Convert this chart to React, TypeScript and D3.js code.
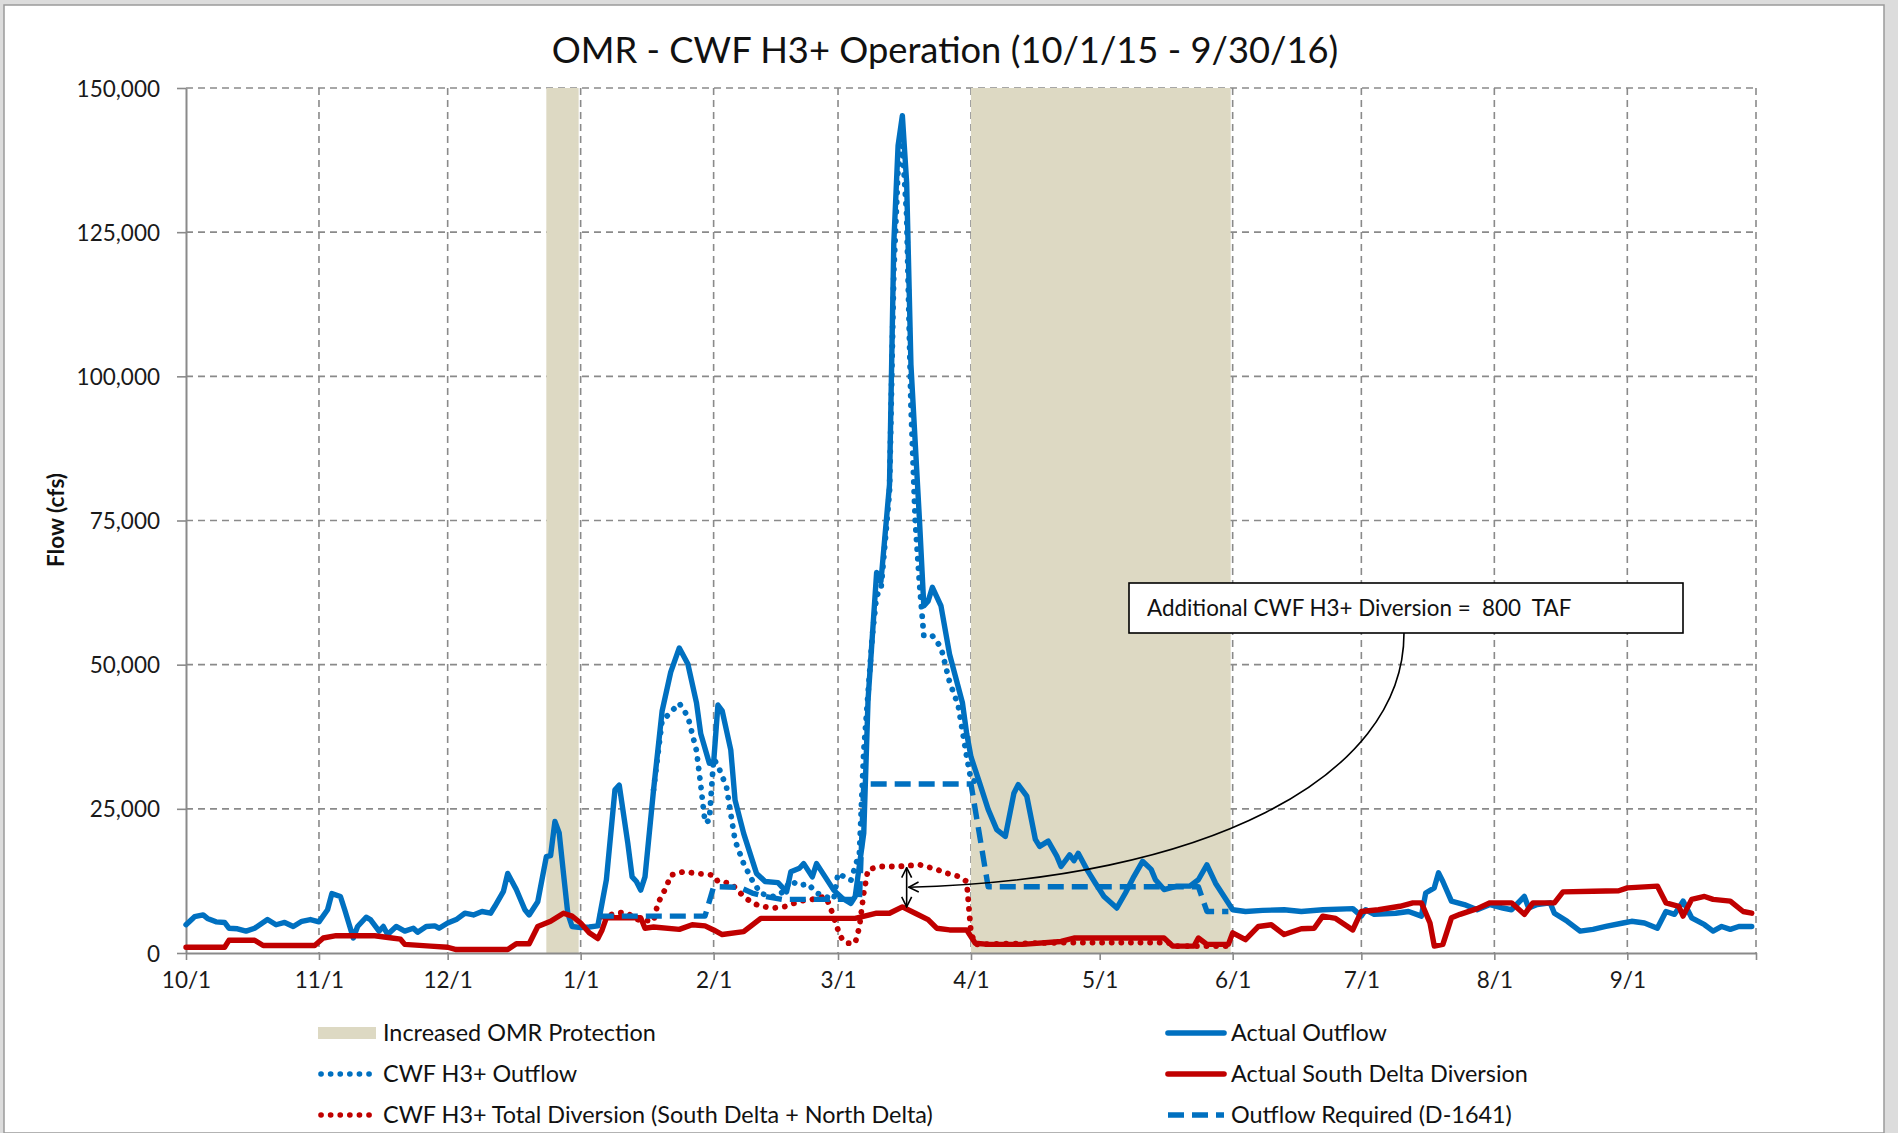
import React, { useEffect, useRef } from 'react';
import * as d3 from 'd3';

type Pt = [string, number];

// Axis values
const monthTicks = ['10/1', '11/1', '12/1', '1/1', '2/1', '3/1', '4/1', '5/1', '6/1', '7/1', '8/1', '9/1'];
const yTicks = [0, 25000, 50000, 75000, 100000, 125000, 150000];

// Increased OMR Protection periods (start, end)
const omrPeriods: [string, string][] = [['12/24', '12/31'], ['4/1', '5/31']];

// Actual Outflow (cfs)
const actualOutflow: Pt[] = [
  ['10/1', 4900], ['10/3', 6300], ['10/5', 6600], ['10/6', 6000], ['10/8', 5400], ['10/10', 5300],
  ['10/11', 4300], ['10/13', 4200], ['10/15', 3800], ['10/17', 4300], ['10/20', 5800], ['10/22', 4900],
  ['10/24', 5300], ['10/26', 4600], ['10/28', 5500], ['10/30', 5800],
  ['11/1', 5400], ['11/3', 7500], ['11/4', 10300], ['11/6', 9800], ['11/7', 7500], ['11/9', 2600],
  ['11/10', 4600], ['11/12', 6200], ['11/13', 5800], ['11/15', 3800], ['11/16', 4600], ['11/17', 3200],
  ['11/19', 4600], ['11/21', 3800], ['11/23', 4300], ['11/24', 3600], ['11/26', 4600], ['11/28', 4700],
  ['11/29', 4300],
  ['12/1', 5200], ['12/3', 5800], ['12/5', 6900], ['12/7', 6600], ['12/9', 7200], ['12/11', 6900],
  ['12/12', 8100], ['12/14', 10700], ['12/15', 13800], ['12/17', 11000], ['12/19', 7500], ['12/20', 6600],
  ['12/22', 8900], ['12/24', 16700], ['12/25', 16900], ['12/26', 22800], ['12/27', 20800], ['12/28', 13800],
  ['12/29', 6900], ['12/30', 4600],
  ['1/1', 4400], ['1/3', 4500], ['1/5', 4700], ['1/7', 12700], ['1/9', 28300], ['1/10', 29100],
  ['1/12', 19000], ['1/13', 13200], ['1/14', 12400], ['1/15', 10900], ['1/16', 13200], ['1/18', 28300],
  ['1/20', 42000], ['1/22', 48700], ['1/24', 52900], ['1/26', 50100], ['1/28', 43400], ['1/29', 38000],
  ['1/31', 32900],
  ['2/1', 33000], ['2/2', 43000], ['2/3', 42000], ['2/5', 35200], ['2/6', 26500], ['2/8', 20750],
  ['2/10', 16100], ['2/11', 13800], ['2/13', 12400], ['2/16', 12200], ['2/18', 10600], ['2/19', 14100],
  ['2/21', 14700], ['2/22', 15500], ['2/24', 13200], ['2/25', 15500], ['2/27', 13200], ['2/29', 10900],
  ['3/2', 9500], ['3/4', 8600], ['3/5', 9800], ['3/7', 20800], ['3/8', 43900], ['3/10', 66000],
  ['3/11', 64400], ['3/13', 81200], ['3/14', 123000], ['3/15', 140000], ['3/16', 145200], ['3/17', 133600],
  ['3/18', 102000], ['3/20', 74900], ['3/21', 60200], ['3/22', 61000], ['3/23', 63400], ['3/25', 60200],
  ['3/27', 51800], ['3/30', 43400], ['3/31', 38000],
  ['4/1', 34000], ['4/3', 29500], ['4/5', 24900], ['4/7', 21400], ['4/9', 20200], ['4/11', 27700],
  ['4/12', 29200], ['4/14', 27200], ['4/16', 19700], ['4/17', 18500], ['4/19', 19400], ['4/21', 16800],
  ['4/22', 15000], ['4/24', 17000], ['4/25', 16000], ['4/26', 17300], ['4/28', 14500], ['4/30', 12100],
  ['5/2', 9800], ['5/5', 7800], ['5/7', 10400], ['5/9', 13300], ['5/11', 15900], ['5/13', 14500],
  ['5/14', 12700], ['5/16', 11000], ['5/19', 11600], ['5/22', 11600], ['5/24', 12700], ['5/26', 15300],
  ['5/28', 12100], ['5/30', 9800],
  ['6/1', 7500], ['6/4', 7200], ['6/8', 7400], ['6/13', 7500], ['6/17', 7200], ['6/22', 7500], ['6/29', 7700],
  ['7/1', 6400], ['7/2', 7500], ['7/4', 6700], ['7/9', 6900], ['7/12', 7200], ['7/15', 6400], ['7/16', 10400],
  ['7/18', 11300], ['7/19', 13900], ['7/20', 12400], ['7/22', 9000], ['7/25', 8400], ['7/28', 7500],
  ['7/31', 8400],
  ['8/3', 7800], ['8/5', 7500], ['8/8', 9800], ['8/9', 7800], ['8/11', 8400], ['8/14', 8700], ['8/15', 6900],
  ['8/18', 5500], ['8/21', 3800], ['8/24', 4100], ['8/27', 4600], ['8/31', 5200],
  ['9/2', 5500], ['9/5', 5200], ['9/8', 4300], ['9/10', 7200], ['9/12', 6700], ['9/14', 9000], ['9/16', 6100],
  ['9/19', 4900], ['9/21', 3800], ['9/23', 4600], ['9/25', 4100], ['9/27', 4600], ['9/30', 4600],
];

// CWF H3+ Outflow (only where it differs from actual)
const cwfOutflow: Pt[] = [
  ['1/18', 28300], ['1/20', 40400], ['1/21', 41000], ['1/24', 43300], ['1/26', 41000], ['1/28', 35100],
  ['1/29', 29100], ['1/30', 22600], ['1/31', 23000], ['2/1', 33700], ['2/2', 32500], ['2/4', 28800],
  ['2/5', 24100], ['2/6', 19500], ['2/8', 15500], ['2/10', 12600], ['2/12', 10300], ['2/15', 9800],
  ['2/17', 10500], ['2/19', 12500], ['2/21', 11700], ['2/23', 12000], ['2/25', 10400], ['2/27', 9800],
  ['2/29', 9300], ['3/1', 13800], ['3/4', 12600], ['3/6', 17400], ['3/7', 35000], ['3/9', 55000],
  ['3/10', 62000], ['3/11', 63000], ['3/13', 80000], ['3/14', 118000], ['3/15', 136000], ['3/16', 140000],
  ['3/17', 128000], ['3/18', 95000], ['3/19', 75000], ['3/20', 64000], ['3/21', 55000], ['3/23', 55000],
  ['3/25', 53000], ['3/27', 47000], ['3/29', 43000], ['3/31', 34000], ['4/1', 30000], ['4/3', 29500],
];

// Actual South Delta Diversion (cfs)
const actualDiversion: Pt[] = [
  ['10/1', 1000], ['10/10', 1000], ['10/11', 2200], ['10/17', 2200], ['10/19', 1300], ['10/31', 1300],
  ['11/2', 2600], ['11/5', 3000], ['11/14', 3000], ['11/18', 2600], ['11/20', 2400], ['11/21', 1500],
  ['11/27', 1200], ['12/1', 1000], ['12/3', 600], ['12/15', 600], ['12/17', 1600], ['12/20', 1600],
  ['12/22', 4600], ['12/25', 5500], ['12/28', 6900], ['12/30', 6400],
  ['1/1', 5200], ['1/3', 3500], ['1/5', 2500], ['1/6', 4000], ['1/7', 6100], ['1/15', 6100], ['1/16', 4300],
  ['1/18', 4500], ['1/24', 4100], ['1/27', 4900], ['1/30', 4700],
  ['2/1', 4000], ['2/3', 3200], ['2/8', 3700], ['2/12', 6000], ['2/28', 6000],
  ['3/5', 6000], ['3/10', 6900], ['3/13', 6900], ['3/16', 8000], ['3/19', 6900], ['3/22', 5800],
  ['3/24', 4300], ['3/27', 4000], ['3/31', 4000],
  ['4/2', 1700], ['4/5', 1500], ['4/13', 1500], ['4/22', 2000], ['4/25', 2600], ['5/16', 2600],
  ['5/18', 1200], ['5/23', 1200], ['5/24', 2600], ['5/26', 1500], ['5/31', 1500],
  ['6/1', 3500], ['6/4', 2300], ['6/7', 4600], ['6/10', 4900], ['6/13', 3200], ['6/17', 4200],
  ['6/20', 4300], ['6/22', 6400], ['6/25', 6000], ['6/29', 4000],
  ['7/1', 7200], ['7/5', 7500], ['7/10', 8100], ['7/13', 8700], ['7/15', 8700], ['7/17', 5200],
  ['7/18', 1200], ['7/20', 1500], ['7/22', 6100], ['7/24', 6700], ['7/28', 7700], ['7/31', 8700],
  ['8/5', 8700], ['8/8', 6700], ['8/10', 8700], ['8/15', 8700], ['8/17', 10600], ['8/24', 10700],
  ['8/30', 10800],
  ['9/1', 11300], ['9/8', 11600], ['9/10', 8700], ['9/13', 8100], ['9/14', 6400], ['9/16', 9300],
  ['9/19', 9800], ['9/21', 9300], ['9/25', 9000], ['9/28', 7200], ['9/30', 6900],
];

// CWF H3+ Total Diversion (only where it differs from actual)
const cwfDiversion: Pt[] = [
  ['1/6', 6300], ['1/10', 7000], ['1/12', 6900], ['1/14', 5800], ['1/18', 5500], ['1/19', 8600],
  ['1/21', 11500], ['1/22', 13500], ['1/25', 14100], ['1/28', 13800], ['2/1', 13500], ['2/2', 12400],
  ['2/5', 12100], ['2/8', 9800], ['2/10', 8700], ['2/12', 8100], ['2/15', 7800], ['2/18', 8100],
  ['2/21', 9000], ['2/24', 9300], ['2/27', 9800], ['2/28', 8400], ['3/1', 4000], ['3/2', 2300],
  ['3/3', 1700], ['3/5', 1700], ['3/6', 4600], ['3/7', 10400], ['3/8', 14500], ['3/11', 15000],
  ['3/15', 15000], ['3/20', 15300], ['3/24', 14500], ['3/26', 13900], ['3/29', 13300], ['3/31', 12400],
  ['4/1', 3500], ['4/2', 1500], ['4/22', 1800], ['4/25', 1800], ['5/17', 1800], ['5/18', 1200],
  ['5/31', 1200],
];

// Outflow Required (D-1641)
const outflowRequired: Pt[] = [
  ['1/5', 6400], ['1/30', 6400], ['2/1', 11500], ['2/7', 11400], ['2/10', 10400], ['2/13', 9800],
  ['2/17', 9300], ['3/6', 9300], ['3/7', 29300], ['4/1', 29300], ['4/5', 11500], ['5/24', 11500],
  ['5/26', 7200], ['5/31', 7200],
];

// Callout
const calloutText = 'Additional CWF H3+ Diversion =  800  TAF';
const arrowDay = '3/17';
const arrowTop = 14800;
const arrowBottom = 8000;

const parseDay = (s: string) => {
  const [m, d] = s.split('/').map(Number);
  return new Date(m >= 10 ? 2015 : 2016, m - 1, d);
};

const BLUE = '#0070C0';
const RED = '#C00000';
const TAN = '#DDD9C3';
const GRID = '#8a8a8a';
const FONT = 'Lato, "Open Sans", sans-serif';

export default function App() {
  const ref = useRef<SVGSVGElement>(null);

  useEffect(() => {
    const width = 1898;
    const height = 1133;
    const margin = { top: 88, right: 142, bottom: 180, left: 186 };
    const innerWidth = width - margin.left - margin.right;
    const innerHeight = height - margin.top - margin.bottom;

    const root = d3.select(ref.current);
    root.selectAll('*').remove();

    // Frame
    root.append('rect').attr('width', width).attr('height', height).attr('fill', '#dcdcdc');
    root.append('rect')
      .attr('x', 4).attr('y', 5).attr('width', 1880).attr('height', height - 5)
      .attr('fill', '#fff').attr('stroke', '#9a9a9a').attr('stroke-width', 1.5);

    // Title
    root.append('text')
      .attr('x', 945).attr('y', 63)
      .attr('text-anchor', 'middle')
      .style('font-family', FONT).style('font-size', '36.3px').attr('fill', '#111')
      .text('OMR - CWF H3+ Operation (10/1/15 - 9/30/16)');

    // Y title
    root.append('text')
      .attr('transform', 'translate(64, 520) rotate(-90)')
      .attr('text-anchor', 'middle')
      .style('font-family', FONT).style('font-size', '22.5px').style('font-weight', 'bold').attr('fill', '#111')
      .text('Flow (cfs)');

    const svg = root.append('g').attr('transform', `translate(${margin.left}, ${margin.top})`);

    // Scales
    const xScale = d3.scaleTime()
      .domain([new Date(2015, 9, 1), new Date(2016, 9, 1)])
      .range([0, innerWidth]);

    const yScale = d3.scaleLinear()
      .domain([0, 150000])
      .range([innerHeight, 0]);

    // Gridlines
    svg.selectAll('.hgrid')
      .data(yTicks.filter(v => v > 0))
      .join('line')
      .attr('class', 'hgrid')
      .attr('x1', 0).attr('x2', innerWidth)
      .attr('y1', d => yScale(d)).attr('y2', d => yScale(d))
      .attr('stroke', GRID).attr('stroke-width', 1.6).attr('stroke-dasharray', '7,5');

    const vDates = monthTicks.slice(1).map(parseDay).concat([new Date(2016, 9, 1)]);
    svg.selectAll('.vgrid')
      .data(vDates)
      .join('line')
      .attr('class', 'vgrid')
      .attr('x1', d => xScale(d)).attr('x2', d => xScale(d))
      .attr('y1', 0).attr('y2', innerHeight)
      .attr('stroke', GRID).attr('stroke-width', 1.6).attr('stroke-dasharray', '7,5');

    // OMR protection bands
    svg.selectAll('.band')
      .data(omrPeriods)
      .join('rect')
      .attr('class', 'band')
      .attr('x', d => xScale(parseDay(d[0])))
      .attr('width', d => xScale(d3.timeDay.offset(parseDay(d[1]), 1)) - xScale(parseDay(d[0])) - 2)
      .attr('y', yScale(150000))
      .attr('height', yScale(0) - yScale(150000))
      .attr('fill', TAN);

    // Axis
    const xAxis = svg.append('g')
      .attr('transform', `translate(0, ${innerHeight})`)
      .call(d3.axisBottom(xScale)
        .tickValues(monthTicks.map(parseDay).concat([new Date(2016, 9, 1)]))
        .tickFormat((d, i) => (i < monthTicks.length ? monthTicks[i] : ''))
        .tickSize(7)
        .tickSizeOuter(0)
        .tickPadding(12));

    const yAxis = svg.append('g')
      .call(d3.axisLeft(yScale)
        .tickValues(yTicks)
        .tickFormat(d3.format(','))
        .tickSize(9)
        .tickSizeOuter(0)
        .tickPadding(17));

    [xAxis, yAxis].forEach(ax => {
      ax.select('.domain').attr('stroke', GRID).attr('stroke-width', 2);
      ax.selectAll('.tick line').attr('stroke', GRID).attr('stroke-width', 1.6);
      ax.selectAll('.tick text')
        .style('font-family', FONT).style('font-size', '22.5px').attr('fill', '#1a1a1a');
    });
    yAxis.selectAll('.tick text').attr('dy', '0.36em');

    // Generators
    const lineGen = d3.line<Pt>()
      .x(d => xScale(parseDay(d[0])))
      .y(d => yScale(d[1]));

    const series = [
      { data: actualOutflow, color: BLUE, dash: null, cap: 'round' },
      { data: cwfOutflow, color: BLUE, dash: '0.1,9.5', cap: 'round' },
      { data: actualDiversion, color: RED, dash: null, cap: 'round' },
      { data: cwfDiversion, color: RED, dash: '0.1,9.5', cap: 'round' },
      { data: outflowRequired, color: BLUE, dash: '16,8', cap: 'butt' },
    ];

    svg.selectAll('.series')
      .data(series)
      .join('path')
      .attr('class', 'series')
      .attr('d', d => lineGen(d.data))
      .attr('fill', 'none')
      .attr('stroke', d => d.color)
      .attr('stroke-width', d => (d.dash && d.cap === 'round' ? 5.8 : 5.4))
      .attr('stroke-dasharray', d => d.dash)
      .attr('stroke-linecap', d => d.cap)
      .attr('stroke-linejoin', 'round');

    // Callout
    const defs = root.append('defs');
    defs.append('marker')
      .attr('id', 'arrow')
      .attr('viewBox', '0 0 12 12')
      .attr('refX', 11).attr('refY', 6)
      .attr('markerWidth', 12).attr('markerHeight', 12)
      .attr('markerUnits', 'userSpaceOnUse')
      .attr('orient', 'auto-start-reverse')
      .append('path')
      .attr('d', 'M1,1 L11,6 L1,11')
      .attr('fill', 'none').attr('stroke', '#000').attr('stroke-width', 1.6);

    const ax = xScale(parseDay(arrowDay));
    const ay1 = yScale(arrowTop);
    const ay2 = yScale(arrowBottom);
    const amid = (ay1 + ay2) / 2;

    svg.append('line')
      .attr('x1', ax).attr('x2', ax).attr('y1', ay1).attr('y2', ay2)
      .attr('stroke', '#000').attr('stroke-width', 1.6)
      .attr('marker-start', 'url(#arrow)').attr('marker-end', 'url(#arrow)');

    const box = { x: 1129 - margin.left, y: 583 - margin.top, w: 554, h: 50 };
    const sx = box.x + 275;
    const sy = box.y + box.h;
    svg.append('path')
      .attr('d', `M${sx},${sy} C${sx},${sy + 147} ${sx - 204},${sy + 247} ${ax + 2},${amid}`)
      .attr('fill', 'none').attr('stroke', '#000').attr('stroke-width', 1.6)
      .attr('marker-end', 'url(#arrow)');

    svg.append('rect')
      .attr('x', box.x).attr('y', box.y).attr('width', box.w).attr('height', box.h)
      .attr('fill', '#fff').attr('stroke', '#000').attr('stroke-width', 1.6);
    svg.append('text')
      .attr('x', box.x + 18).attr('y', box.y + box.h / 2 + 8)
      .style('font-family', FONT).style('font-size', '22.4px').style('white-space', 'pre').attr('fill', '#111')
      .text(calloutText);

    // Legend
    const legendItems = [
      { label: 'Increased OMR Protection', kind: 'band', color: TAN, dash: null, col: 0, row: 0 },
      { label: 'Actual Outflow', kind: 'line', color: BLUE, dash: null, col: 1, row: 0 },
      { label: 'CWF H3+ Outflow', kind: 'line', color: BLUE, dash: '0.1,9.5', col: 0, row: 1 },
      { label: 'Actual South Delta Diversion', kind: 'line', color: RED, dash: null, col: 1, row: 1 },
      { label: 'CWF H3+ Total Diversion (South Delta + North Delta)', kind: 'line', color: RED, dash: '0.1,9.5', col: 0, row: 2 },
      { label: 'Outflow Required (D-1641)', kind: 'line', color: BLUE, dash: '16,8', col: 1, row: 2 },
    ];
    const colX = [318, 1166];
    const rowY = [1033, 1074, 1115];

    const legend = root.selectAll('.legend')
      .data(legendItems)
      .join('g')
      .attr('class', 'legend')
      .attr('transform', d => `translate(${colX[d.col]}, ${rowY[d.row]})`);

    legend.filter(d => d.kind === 'band')
      .append('rect')
      .attr('x', 0).attr('y', -6).attr('width', 58).attr('height', 12)
      .attr('fill', TAN);

    legend.filter(d => d.kind === 'line')
      .append('line')
      .attr('x1', d => (d.dash === '0.1,9.5' ? 3 : 2)).attr('x2', 58)
      .attr('y1', 0).attr('y2', 0)
      .attr('stroke', d => d.color)
      .attr('stroke-width', 5.6)
      .attr('stroke-dasharray', d => d.dash)
      .attr('stroke-linecap', d => (d.dash === '16,8' ? 'butt' : 'round'));

    legend.append('text')
      .attr('x', 65).attr('y', 8)
      .style('font-family', FONT).style('font-size', '23.4px').attr('fill', '#111')
      .text(d => d.label);
  }, []);

  return (
    <svg ref={ref} width={1898} height={1133} style={{ position: 'absolute', left: 0, top: 0 }} />
  );
}
